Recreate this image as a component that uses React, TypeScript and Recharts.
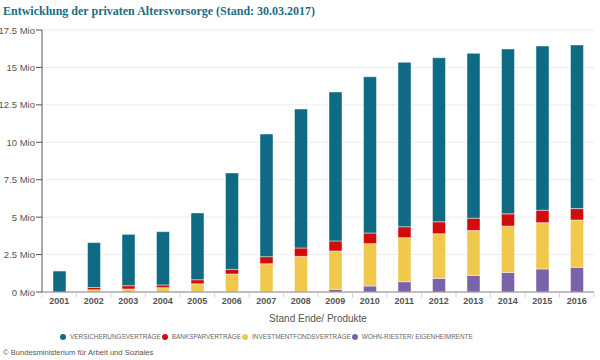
import { BarChart, Bar, XAxis, YAxis, CartesianGrid } from 'recharts';

const years = ['2001', '2002', '2003', '2004', '2005', '2006', '2007', '2008', '2009', '2010', '2011', '2012', '2013', '2014', '2015', '2016'];
// values in millions of contracts
const versicherung = [1.4, 3.0, 3.43, 3.56, 4.46, 6.44, 8.19, 9.28, 9.95, 10.44, 10.98, 10.96, 11.01, 11.01, 10.97, 10.93];
const bank = [0, 0.15, 0.22, 0.18, 0.27, 0.31, 0.47, 0.56, 0.67, 0.71, 0.73, 0.8, 0.82, 0.82, 0.83, 0.76];
const invest = [0, 0.15, 0.2, 0.29, 0.55, 1.2, 1.89, 2.38, 2.56, 2.83, 2.94, 2.98, 3.0, 3.09, 3.09, 3.16];
const wohn = [0, 0, 0, 0, 0, 0, 0, 0, 0.18, 0.4, 0.69, 0.91, 1.11, 1.31, 1.54, 1.65];
const yTicks = [0, 2.5, 5, 7.5, 10, 12.5, 15, 17.5];

const series = [
  { key: 'wohn', name: 'WOHN-RIESTER/ EIGENHEIMRENTE', color: '#7b63a9' },
  { key: 'invest', name: 'INVESTMENTFONDSVERTRÄGE', color: '#f0c84c' },
  { key: 'bank', name: 'BANKSPARVERTRÄGE', color: '#d20b0b' },
  { key: 'vers', name: 'VERSICHERUNGSVERTRÄGE', color: '#0e6b83' },
];
const legendOrder = ['vers', 'bank', 'invest', 'wohn'];

const data = years.map((year, i) => ({
  year,
  vers: versicherung[i],
  bank: bank[i],
  invest: invest[i],
  wohn: wohn[i],
}));

const FONT = '"Liberation Sans", Arial, sans-serif';
const BAND = (600 - 42 - 6) / years.length;

function YearTick(props: any) {
  const { x, y, payload, index } = props;
  return (
    <g>
      <line x1={x - BAND / 2} x2={x - BAND / 2} y1={y + 1} y2={y + 6} stroke="#d8d8d8" />
      {index === years.length - 1 && (
        <line x1={x + BAND / 2} x2={x + BAND / 2} y1={y + 1} y2={y + 6} stroke="#d8d8d8" />
      )}
      <text x={x} y={y + 12} textAnchor="middle" fontSize={9} fontWeight="bold" fill="#555" fontFamily={FONT}>
        {payload.value}
      </text>
    </g>
  );
}

function MioTick(props: any) {
  const { x, y, payload } = props;
  return (
    <text x={x} y={y} dy={3.5} textAnchor="end" fontSize={9.5} fill="#555" fontFamily={FONT}>
      {`${payload.value} Mio`}
    </text>
  );
}

export default function App() {
  return (
    <div style={{ position: 'absolute', left: 0, top: 0, width: 600, height: 360, background: '#fff', fontFamily: FONT, overflow: 'hidden' }}>
      <div style={{ position: 'absolute', left: 3, top: 4, fontFamily: '"Liberation Serif", serif', fontWeight: 'bold', fontSize: 12, color: '#1b6e80', whiteSpace: 'nowrap' }}>
        Entwicklung der privaten Altersvorsorge (Stand: 30.03.2017)
      </div>
      <BarChart width={600} height={360} data={data} margin={{ top: 30, right: 6, bottom: 38, left: 0 }}>
        <CartesianGrid vertical={false} stroke="#ececec" />
        <XAxis
          dataKey="year"
          height={30}
          tickSize={0}
          tickMargin={0}
          tickLine={false}
          stroke="#888"
          tick={<YearTick />}
          interval={0}
          label={{ value: 'Stand Ende/ Produkte', position: 'insideBottom', offset: 0, fontSize: 10, fill: '#555', fontFamily: FONT }}
        />
        <YAxis
          width={42}
          domain={[0, 17.5]}
          ticks={yTicks}
          tickSize={6}
          tickMargin={1}
          stroke="#555"
          tick={<MioTick />}
        />
        {series.map(s => (
          <Bar
            key={s.key}
            dataKey={s.key}
            name={s.name}
            stackId="a"
            fill={s.color}
            barSize={13}
            stroke="rgba(255,255,255,0.45)"
            strokeWidth={1}
            isAnimationActive={false}
          />
        ))}
      </BarChart>
      <div style={{ position: 'absolute', left: 60, top: 333, display: 'flex', alignItems: 'center', fontSize: 6.4, color: '#666', whiteSpace: 'nowrap' }}>
        {legendOrder.map(k => {
          const s = series.find(x => x.key === k)!;
          return (
            <div key={k} style={{ display: 'flex', alignItems: 'center', marginRight: 1 }}>
              <span style={{ display: 'inline-block', width: 6, height: 6, borderRadius: 3, background: s.color, marginRight: 4 }} />
              <span>{s.name}</span>
            </div>
          );
        })}
      </div>
      <div style={{ position: 'absolute', left: 3, top: 348, fontSize: 7.6, color: '#555', whiteSpace: 'nowrap' }}>
        © Bundesministerium für Arbeit und Soziales
      </div>
    </div>
  );
}
